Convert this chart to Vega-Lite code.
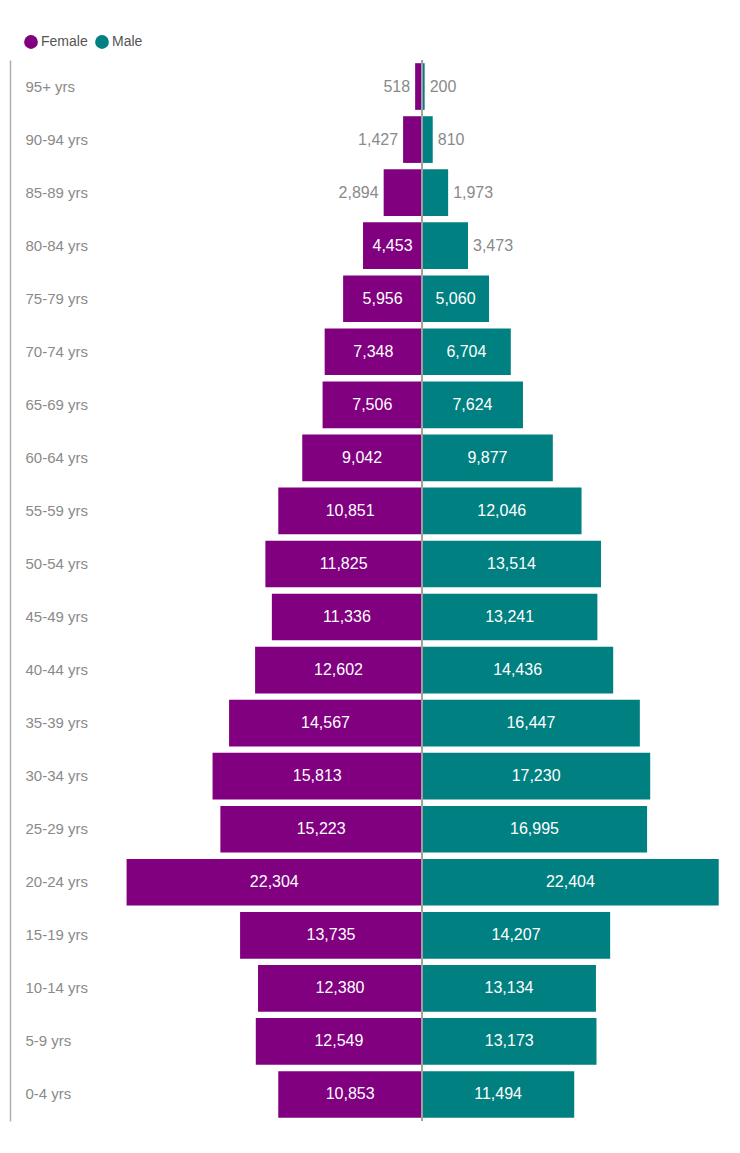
{
  "$schema": "https://vega.github.io/schema/vega-lite/v6.json",
  "autosize": {"type": "none"},
  "width": 596,
  "height": 1061,
  "padding": {"left": 124, "top": 60, "right": 20, "bottom": 32},
  "background": "white",
  "config": {
    "view": {"stroke": null},
    "font": "Liberation Sans, sans-serif"
  },
  "data": {
    "values": [
      {"age": "95+ yrs", "gender": "Female", "value": 518},
      {"age": "90-94 yrs", "gender": "Female", "value": 1427},
      {"age": "85-89 yrs", "gender": "Female", "value": 2894},
      {"age": "80-84 yrs", "gender": "Female", "value": 4453},
      {"age": "75-79 yrs", "gender": "Female", "value": 5956},
      {"age": "70-74 yrs", "gender": "Female", "value": 7348},
      {"age": "65-69 yrs", "gender": "Female", "value": 7506},
      {"age": "60-64 yrs", "gender": "Female", "value": 9042},
      {"age": "55-59 yrs", "gender": "Female", "value": 10851},
      {"age": "50-54 yrs", "gender": "Female", "value": 11825},
      {"age": "45-49 yrs", "gender": "Female", "value": 11336},
      {"age": "40-44 yrs", "gender": "Female", "value": 12602},
      {"age": "35-39 yrs", "gender": "Female", "value": 14567},
      {"age": "30-34 yrs", "gender": "Female", "value": 15813},
      {"age": "25-29 yrs", "gender": "Female", "value": 15223},
      {"age": "20-24 yrs", "gender": "Female", "value": 22304},
      {"age": "15-19 yrs", "gender": "Female", "value": 13735},
      {"age": "10-14 yrs", "gender": "Female", "value": 12380},
      {"age": "5-9 yrs", "gender": "Female", "value": 12549},
      {"age": "0-4 yrs", "gender": "Female", "value": 10853},
      {"age": "95+ yrs", "gender": "Male", "value": 200},
      {"age": "90-94 yrs", "gender": "Male", "value": 810},
      {"age": "85-89 yrs", "gender": "Male", "value": 1973},
      {"age": "80-84 yrs", "gender": "Male", "value": 3473},
      {"age": "75-79 yrs", "gender": "Male", "value": 5060},
      {"age": "70-74 yrs", "gender": "Male", "value": 6704},
      {"age": "65-69 yrs", "gender": "Male", "value": 7624},
      {"age": "60-64 yrs", "gender": "Male", "value": 9877},
      {"age": "55-59 yrs", "gender": "Male", "value": 12046},
      {"age": "50-54 yrs", "gender": "Male", "value": 13514},
      {"age": "45-49 yrs", "gender": "Male", "value": 13241},
      {"age": "40-44 yrs", "gender": "Male", "value": 14436},
      {"age": "35-39 yrs", "gender": "Male", "value": 16447},
      {"age": "30-34 yrs", "gender": "Male", "value": 17230},
      {"age": "25-29 yrs", "gender": "Male", "value": 16995},
      {"age": "20-24 yrs", "gender": "Male", "value": 22404},
      {"age": "15-19 yrs", "gender": "Male", "value": 14207},
      {"age": "10-14 yrs", "gender": "Male", "value": 13134},
      {"age": "5-9 yrs", "gender": "Male", "value": 13173},
      {"age": "0-4 yrs", "gender": "Male", "value": 11494}
    ]
  },
  "transform": [
    {"calculate": "datum.gender === 'Female' ? -datum.value : datum.value", "as": "signed"},
    {"calculate": "datum.signed / 2", "as": "mid"}
  ],
  "encoding": {
    "y": {
      "field": "age", "type": "nominal", "sort": null,
      "scale": {"paddingInner": 0.12, "paddingOuter": 0.06},
      "axis": {
        "title": null, "ticks": false, "offset": 114,
        "domain": true, "domainColor": "#b0b0b0", "domainWidth": 1.5,
        "labelAlign": "left", "labelPadding": -15,
        "labelFontSize": 15, "labelColor": "#8a8a8a",
        "labelFont": "Liberation Sans, sans-serif"
      }
    }
  },
  "layer": [
    {
      "mark": {"type": "bar"},
      "encoding": {
        "x": {
          "field": "signed", "type": "quantitative",
          "scale": {"domain": [-22500, 22500], "nice": false, "zero": false},
          "axis": null
        },
        "color": {
          "field": "gender", "type": "nominal",
          "scale": {"domain": ["Female", "Male"], "range": ["#800080", "#008080"]},
          "legend": {
            "title": null, "orient": "none", "direction": "horizontal",
            "legendX": -101, "legendY": -26,
            "symbolType": "circle", "symbolSize": 190, "symbolOpacity": 1,
            "labelFontSize": 14, "labelColor": "#555555",
            "labelOffset": 2, "columnPadding": 6,
            "labelFont": "Liberation Sans, sans-serif"
          }
        }
      }
    },
    {
      "mark": {"type": "rule", "color": "#a0a0a0", "strokeWidth": 1},
      "encoding": {"x": {"datum": 0, "type": "quantitative"}, "y": null}
    },
    {
      "transform": [{"filter": "datum.value >= 4000"}],
      "mark": {"type": "text", "color": "white", "fontSize": 16, "align": "center", "baseline": "middle"},
      "encoding": {
        "x": {"field": "mid", "type": "quantitative"},
        "text": {"field": "value", "type": "quantitative", "format": ","}
      }
    },
    {
      "transform": [{"filter": "datum.value < 4000 && datum.gender === 'Female'"}],
      "mark": {"type": "text", "color": "#8a8a8a", "fontSize": 16, "align": "right", "baseline": "middle", "dx": -5},
      "encoding": {
        "x": {"field": "signed", "type": "quantitative"},
        "text": {"field": "value", "type": "quantitative", "format": ","}
      }
    },
    {
      "transform": [{"filter": "datum.value < 4000 && datum.gender === 'Male'"}],
      "mark": {"type": "text", "color": "#8a8a8a", "fontSize": 16, "align": "left", "baseline": "middle", "dx": 5},
      "encoding": {
        "x": {"field": "signed", "type": "quantitative"},
        "text": {"field": "value", "type": "quantitative", "format": ","}
      }
    }
  ]
}
